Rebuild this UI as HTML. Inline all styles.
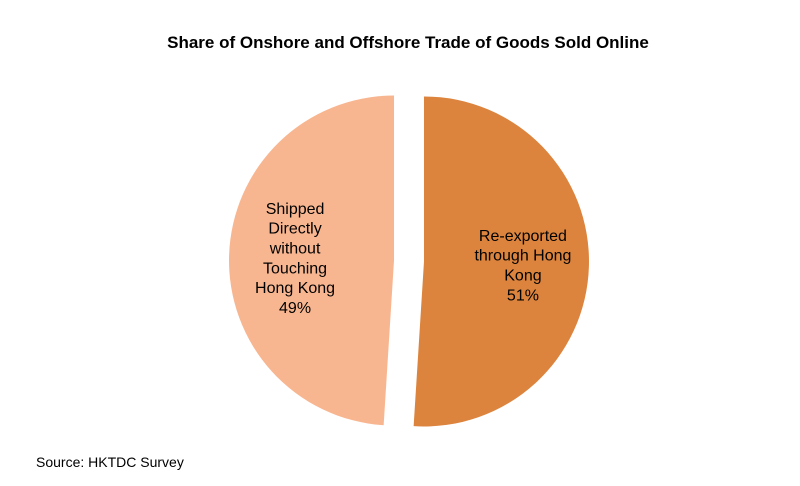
<!DOCTYPE html>
<html><head><meta charset="utf-8"><style>
body{margin:0;background:#fff;}
svg{display:block;font-family:"Liberation Sans",Arial,sans-serif;}
</style></head><body>
<svg id="chart" width="800" height="486" viewBox="0 0 800 486">
<rect width="800" height="486" fill="#fff"/>
<text x="408" y="48" text-anchor="middle" font-size="17" font-weight="bold" fill="#000">Share of Onshore and Offshore Trade of Goods Sold Online</text>
<g id="slices"></g>
<text x="36" y="467" font-size="14" fill="#000">Source: HKTDC Survey</text>
</svg>
<script>
const categories = ["Re-exported through Hong Kong", "Shipped Directly without Touching Hong Kong"];
const values = [51, 49];
const labels = [["Re-exported","through Hong","Kong","51%"],["Shipped","Directly","without","Touching","Hong Kong","49%"]];
const colors = ["#DC843D", "#F8B690"];
const cx = 409, cy = 261, r = 165, explode = 15;
const g = document.getElementById('slices');
const NS = "http://www.w3.org/2000/svg";
const total = values.reduce((a,b)=>a+b,0);
let start = 0;
values.forEach((v,i)=>{
  const a0 = start/total*2*Math.PI, a1 = (start+v)/total*2*Math.PI;
  start += v;
  const mid = (a0+a1)/2;
  const ox = cx + explode*Math.sin(mid), oy = cy - explode*Math.cos(mid);
  const x0 = ox + r*Math.sin(a0), y0 = oy - r*Math.cos(a0);
  const x1 = ox + r*Math.sin(a1), y1 = oy - r*Math.cos(a1);
  const large = (a1-a0) > Math.PI ? 1 : 0;
  const p = document.createElementNS(NS,'path');
  p.setAttribute('d',`M${ox},${oy} L${x0},${y0} A${r},${r} 0 ${large} 1 ${x1},${y1} Z`);
  p.setAttribute('fill',colors[i]);
  
  
  g.appendChild(p);
  const lx = ox + r*0.6*Math.sin(mid);
  const ly = oy - r*0.6*Math.cos(mid);
  const lines = labels[i];
  const lh = 19.8;
  const t = document.createElementNS(NS,'text');
  t.setAttribute('text-anchor','middle');
  t.setAttribute('font-size','16');
  t.setAttribute('fill','#000');
  
  
  lines.forEach((ln,k)=>{
    const s = document.createElementNS(NS,'tspan');
    s.setAttribute('x', lx);
    s.setAttribute('y', ly - (lines.length-1)*lh/2 + k*lh + 6);
    s.textContent = ln;
    t.appendChild(s);
  });
  g.appendChild(t);
});
</script>
</body></html>
